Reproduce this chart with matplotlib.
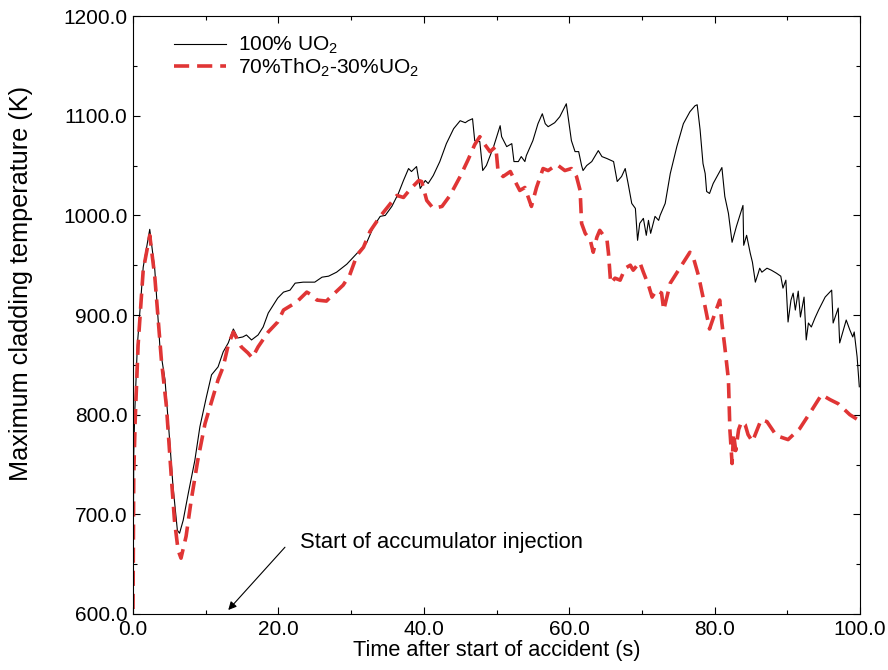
import numpy as np
import matplotlib
import matplotlib.pyplot as plt
from matplotlib.ticker import MultipleLocator, FormatStrFormatter

matplotlib.use("Agg")
plt.rcParams['font.family'] = ['Liberation Sans', 'DejaVu Sans']
plt.rcParams['mathtext.fontset'] = 'custom'
plt.rcParams['mathtext.rm'] = 'Liberation Sans'

# 100% UO2 case
t_uo2 = [0.0, 0.1, 0.23, 0.6, 1.4, 2.3, 3.0, 3.7, 4.4, 5.0, 5.5, 6.1, 6.4, 6.9,
         7.6, 8.5, 9.2, 10.1, 10.8, 11.7, 12.4, 13.1, 13.8, 14.4, 15.1, 15.6,
         16.3, 17.2, 17.9, 18.6, 19.9, 20.7, 21.6, 22.3, 23.4, 25.0, 26.0,
         26.9, 28.0, 29.4, 30.3, 31.2, 32.1, 33.1, 34.0, 34.7, 35.6, 36.5,
         37.2, 37.9, 38.3, 39.0, 39.5, 40.2, 40.6, 41.3, 42.2, 43.1, 44.1,
         45.0, 45.7, 46.1, 46.7, 47.0, 47.7, 48.1, 48.6, 49.6, 50.5, 50.7,
         51.4, 52.1, 52.4, 53.0, 53.4, 53.9, 54.1, 55.0, 55.7, 56.3, 56.7,
         57.1, 58.0, 58.7, 59.6, 59.9, 60.3, 60.8, 61.3, 61.7, 61.9, 62.4,
         63.1, 64.0, 64.5, 65.2, 66.1, 66.6, 67.2, 67.7, 68.1, 68.6, 69.1,
         69.4, 69.7, 70.2, 70.6, 70.9, 71.2, 71.8, 72.3, 72.5, 73.2, 73.9,
         74.8, 75.7, 76.6, 77.3, 77.6, 78.0, 78.4, 78.7, 78.9, 79.3, 79.8,
         81.0, 81.4, 81.9, 82.4, 83.0, 83.9, 84.0, 84.4, 84.9, 85.2, 85.6,
         86.0, 86.2, 86.5, 87.2, 87.8, 88.5, 89.1, 89.4, 89.8, 90.1, 90.5,
         90.8, 91.1, 91.5, 91.8, 92.3, 92.6, 92.9, 93.3, 93.8, 94.3, 95.2,
         96.1, 96.3, 97.0, 97.2, 98.1, 98.6, 99.0, 99.2, 99.6, 99.9]
T_uo2 = [600, 761, 801, 870, 948, 986, 945, 868, 835, 778, 728, 684, 681, 694,
         721, 754, 788, 818, 840, 848, 863, 872, 886, 877, 878, 880,
         875, 880, 888, 902, 917, 923, 925, 932, 933, 933, 938,
         939, 943, 951, 958, 965, 972, 989, 999, 1000, 1009, 1022,
         1035, 1047, 1044, 1049, 1027, 1035, 1032, 1040, 1054, 1072, 1087,
         1095, 1093, 1095, 1097, 1075, 1074, 1045, 1050, 1069, 1090, 1079,
         1069, 1072, 1054, 1054, 1059, 1054, 1060, 1075, 1092, 1102, 1092,
         1089, 1093, 1099, 1112, 1096, 1075, 1064, 1064, 1050, 1045, 1050,
         1054, 1065, 1059, 1057, 1054, 1034, 1039, 1047, 1032, 1012, 1007,
         975, 992, 997, 980, 995, 982, 999, 995, 1000, 1012, 1042,
         1069, 1092, 1104, 1110, 1111, 1086, 1052, 1042, 1024, 1022, 1032,
         1048, 1019, 1002, 973, 989, 1010, 970, 980, 962, 953, 933,
         942, 947, 943, 947, 945, 942, 939, 927, 935, 893, 915,
         922, 905, 924, 898, 918, 875, 892, 888, 897, 905, 918,
         925, 892, 907, 872, 895, 885, 878, 883, 858, 828]

# 70%ThO2-30%UO2 case
t_tho2 = [0.0, 0.1, 0.3, 0.7, 1.4, 2.3, 3.0, 3.9, 4.6, 5.3, 5.7, 6.2, 6.6, 7.3,
          8.0, 8.9, 9.9, 10.8, 11.7, 12.4, 13.1, 13.8, 14.9, 15.8, 16.4, 17.2,
          18.6, 19.9, 20.7, 22.5, 23.9, 24.6, 25.3, 26.6, 27.3, 28.9, 29.8,
          30.8, 31.7, 32.6, 34.0, 35.1, 36.3, 37.2, 38.1, 39.3, 39.7, 40.4,
          41.3, 42.5, 43.6, 45.0, 46.1, 47.0, 47.7, 48.4, 49.1, 49.9, 50.2,
          50.9, 51.9, 52.5, 53.2, 53.9, 54.8, 55.5, 56.4, 57.1, 58.3, 59.4,
          60.3, 61.0, 61.5, 61.7, 62.2, 62.9, 63.3, 63.8, 64.2, 65.2, 65.4,
          65.7, 66.3, 67.0, 67.7, 68.4, 68.8, 69.7, 70.2, 70.9, 71.4, 72.0,
          72.7, 73.0, 73.9, 75.2, 76.6, 77.1, 77.8, 78.2, 78.7, 79.3, 80.1,
          80.7, 81.0, 81.4, 81.9, 82.1, 82.4, 82.6, 82.9, 83.3, 83.7, 84.2,
          84.6, 85.2, 86.4, 87.2, 88.5, 90.1, 91.7, 93.4, 94.7, 95.9, 97.0,
          98.6, 99.9]
T_tho2 = [605, 740, 795, 870, 945, 980, 938, 855, 808, 734, 694, 664, 656, 678,
          714, 754, 791, 813, 835, 848, 870, 883, 868, 862, 857, 868,
          883, 893, 905, 913, 923, 920, 915, 914, 919, 930, 940,
          960, 968, 984, 999, 1009, 1020, 1018, 1026, 1035, 1034, 1015,
          1007, 1009, 1020, 1039, 1056, 1071, 1079, 1071, 1064, 1069, 1045,
          1039, 1044, 1035, 1025, 1028, 1009, 1028, 1047, 1045, 1051, 1045,
          1047, 1039, 1025, 992, 982, 975, 963, 978, 985, 975, 962,
          932, 937, 935, 947, 950, 945, 953, 943, 930, 918, 925,
          922, 905, 932, 947, 963, 957, 939, 925, 908, 886, 903,
          915, 892, 868, 835, 785, 751, 781, 764, 785, 793, 790,
          780, 773, 795, 793, 779, 775, 786, 805, 820, 815, 811,
          800, 794]

fig = plt.figure(figsize=(8.88, 6.70), dpi=100)
ax = fig.add_axes([0.1498, 0.0836, 0.8187, 0.8924])

ax.plot(t_uo2, T_uo2, color="black", lw=0.8, label="100% UO$_2$")
ax.plot(t_tho2, T_tho2, color="#e03535", lw=2.6, dashes=(4.2, 2.2),
        label="70%ThO$_2$-30%UO$_2$")

ax.set_xlim(0, 100)
ax.set_ylim(600, 1200)
ax.xaxis.set_major_locator(MultipleLocator(20))
ax.xaxis.set_minor_locator(MultipleLocator(10))
ax.yaxis.set_major_locator(MultipleLocator(100))
ax.yaxis.set_minor_locator(MultipleLocator(50))
ax.xaxis.set_major_formatter(FormatStrFormatter("%.1f"))
ax.yaxis.set_major_formatter(FormatStrFormatter("%.1f"))
ax.tick_params(which="both", direction="in", top=True, right=True,
               labelsize=15, width=0.8)
ax.tick_params(which="major", length=5, pad=4)
ax.tick_params(which="minor", length=3)

ax.set_xlabel("Time after start of accident (s)", fontsize=15.7, labelpad=1)
ax.set_ylabel("Maximum cladding temperature (K)", fontsize=18.2)
ax.yaxis.set_label_coords(-0.137, 0.553)

ax.text(23.0, 672, "Start of accumulator injection", fontsize=15.8,
        va="center", ha="left")
ax.annotate("", xy=(13.1, 604), xytext=(20.9, 667),
            arrowprops=dict(arrowstyle="-|>", color="black", lw=0.8,
                            shrinkA=0, shrinkB=0, mutation_scale=12))

ax.legend(loc="upper left", bbox_to_anchor=(0.03, 1.0), frameon=False,
          fontsize=15, handlelength=2.5, handletextpad=0.6, labelspacing=0.0)

fig.savefig("out.png", dpi=100)
